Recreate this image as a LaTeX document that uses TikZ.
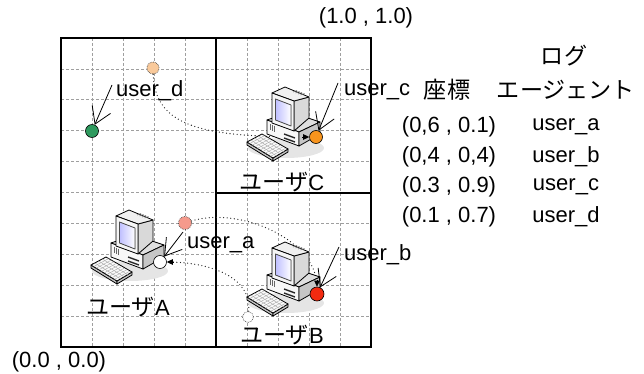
\documentclass[tikz,border=0pt]{standalone}
\usepackage{fontspec}
\setmainfont{Liberation Sans}
\newfontfamily\jp[Scale=1.05]{Noto Sans CJK JP}
\usetikzlibrary{arrows.meta}

\definecolor{dotgreen}{HTML}{2E9A5E}
\definecolor{dotorange}{HTML}{F7941D}
\definecolor{dotred}{HTML}{F22A10}
\definecolor{fadeorange}{HTML}{F9C99A}
\definecolor{fadered}{HTML}{F59A8C}

\pgfdeclarelayer{back}
\pgfdeclarelayer{front}
\pgfsetlayers{back,main,front}

% desktop pc icon, origin at the top left of the monitor
\tikzset{
  computer/.pic={
    \begin{scope}[line width=0.8, line join=round]
      \fill[black!10] (14,60) ellipse [x radius=38, y radius=10];
      % case
      \filldraw[fill=gray!25] (-5,32) -- (18,24) -- (48,34) -- (27,44) -- cycle;
      \filldraw[fill=gray!6] (-5,32) -- (27,44) -- (27,58) -- (-5,46) -- cycle;
      \filldraw[fill=gray!45] (27,44) -- (48,34) -- (48,46) -- (27,58) -- cycle;
      \draw[line width=1.4, black!85] (12,46) -- (23,50) (12,50) -- (23,54);
      \foreach \v in {-2,0,2}
        \draw[line width=0.5, black!60] (\v, 37+0.375*\v) -- (\v, 43+0.375*\v);
      % monitor
      \filldraw[fill=gray!30] (22,13) -- (37,9) -- (37,30) -- (22,43) -- cycle;
      \filldraw[fill=gray!12] (0,5) -- (13,-1) -- (37,9) -- (22,13) -- cycle;
      \filldraw[fill=gray!8] (0,5) -- (22,13) -- (22,43) -- (0,35) -- cycle;
      \filldraw[left color=blue!25, right color=white, draw=black!70] (3.5,11) -- (19,17) -- (19,38) -- (3.5,32) -- cycle;
      \foreach \g in {0,2.5,5,7.5}
        \draw[line width=0.6, black!55] (21+\g, 4+0.4*\g) -- (25+\g, 2.5+0.4*\g);
      % keyboard
      \filldraw[fill=gray!45] (-25,54) -- (1,70) -- (1,73) -- (-25,57) -- cycle;
      \filldraw[fill=gray!45] (1,70) -- (16,61) -- (16,64) -- (1,73) -- cycle;
      \filldraw[fill=gray!4] (-25,54) -- (-10,46) -- (16,61) -- (1,70) -- cycle;
      \foreach \k in {0.25,0.5,0.75}
        \draw[line width=0.4, black!35] (-25+15*\k, 54-8*\k) -- (1+15*\k, 70-8*\k);
      \foreach \k in {0.1,0.2,...,0.9}
        \draw[line width=0.4, black!35] (-25+26*\k, 54+16*\k) -- (-10+26*\k, 46+16*\k);
    \end{scope}
  }
}

\begin{document}
\begin{tikzpicture}[x=1pt, y=-1pt, font=\fontsize{22}{25}\selectfont]
  \tikzstyle{agent}=[circle, draw=black, line width=0.6, minimum size=13, inner sep=0];
  \tikzstyle{ghost}=[circle, draw=black!70, densely dotted, line width=0.7, minimum size=12, inner sep=0];
  \tikzstyle{track}=[line width=1.3, dash pattern=on 0pt off 3.6pt, line cap=round, black!85];
  \tikzstyle{tip}=[line width=0.6, -{Triangle[length=6pt, width=5.5pt]}];
  \tikzstyle{callout}=[line width=0.8, black, -{Straight Barb[length=16pt, width=20pt, line width=0.8pt]}];
  \tikzstyle{tag}=[inner sep=1, anchor=west];
  \tikzstyle{gridline}=[line width=0.6, gray!75, dash pattern=on 3pt off 2pt];
  \tikzstyle{frame}=[line width=2.8];

  \useasboundingbox (0,0) rectangle (644,374);

  % agents now
  \begin{pgfonlayer}{front}
    \node[agent, fill=white] (ua) at (160,262) {};
    \node[agent, fill=dotred, minimum size=14] (ub) at (317,294) {};
    \node[agent, fill=dotorange] (uc) at (316,137) {};
    \node[agent, fill=dotgreen] (ud) at (92,131) {};
  \end{pgfonlayer}

  \begin{pgfonlayer}{back}
    % grid
    \foreach \i in {1,...,9} {
      \draw[gridline] (61+31*\i, 38) -- (61+31*\i, 347);
      \draw[gridline] (61, 38+30.9*\i) -- (371, 38+30.9*\i);
    }
    \draw[frame] (61,38) rectangle (371,347);
    \draw[frame] (216,38) -- (216,347);
    \draw[frame] (216,193) -- (371,193);

    % agents before
    \node[ghost, fill=white, minimum size=11] (ga) at (248,317) {};
    \node[ghost, fill=fadered, minimum size=13] (gb) at (185,223) {};
    \node[ghost, fill=fadeorange] (gc) at (153,68) {};

    \draw[track] (ga) .. controls (252,278) and (212,262) .. (ua.east);
    \draw[track] (gb) .. controls (240,206) and (317,240) .. (ub.north);
    \draw[track] (gc) .. controls (155,128) and (205,137) .. (uc.west);
  \end{pgfonlayer}

  \pic at (116,211) {computer};
  \pic at (272,243) {computer};
  \pic at (272,88) {computer};

  \begin{pgfonlayer}{front}
    \draw[tip] ([xshift=7pt]ua.east) -- (ua.east);
    \draw[tip] ([yshift=7pt]ub.north) -- (ub.north);
    \draw[tip] ([xshift=-7pt]uc.west) -- (uc.west);

    \node[tag] (la) at (186,245) {user\_a};
    \node[tag] (lb) at (343,255) {user\_b};
    \node[tag] (lc) at (343,92) {user\_c};
    \node[tag] (ld) at (115,91) {user\_d};
    \draw[callout] ([shift={(-3pt,13pt)}]la.west) -- (ua);
    \draw[callout] ([shift={(-4pt,8pt)}]lb.west) -- (ub);
    \draw[callout] ([shift={(-5pt,9pt)}]lc.west) -- (uc);
    \draw[callout] ([shift={(-3pt,6pt)}]ld.west) -- (ud);
  \end{pgfonlayer}

  % names
  \node (na) at (128,307) {{\jp ユーザ}A};
  \node (nb) at (282,335) {{\jp ユーザ}B};
  \node (nc) at (282,182) {{\jp ユーザ}C};

  % corners
  \node (top) at (366,18) {(1.0 , 1.0)};
  \node (origin) at (59,362) {(0.0 , 0.0)};

  % table
  \node (hpos) at (447,90) {\jp 座標};
  \node (hlog) at (564,56) {\jp ログ};
  \node (hagent) at (566,90) {\jp エージェント};
  \foreach \p/\n [count=\r] in {{(0,6 , 0.1)}/user\_a, {(0,4 , 0,4)}/user\_b, {(0.3 , 0.9)}/user\_c, {(0.1 , 0.7)}/user\_d}{
    \node (pos\r) at (449, 97+30*\r) {\p};
    \node (log\r) at (566, 97+30*\r) {\n};
  }
\end{tikzpicture}
\end{document}
